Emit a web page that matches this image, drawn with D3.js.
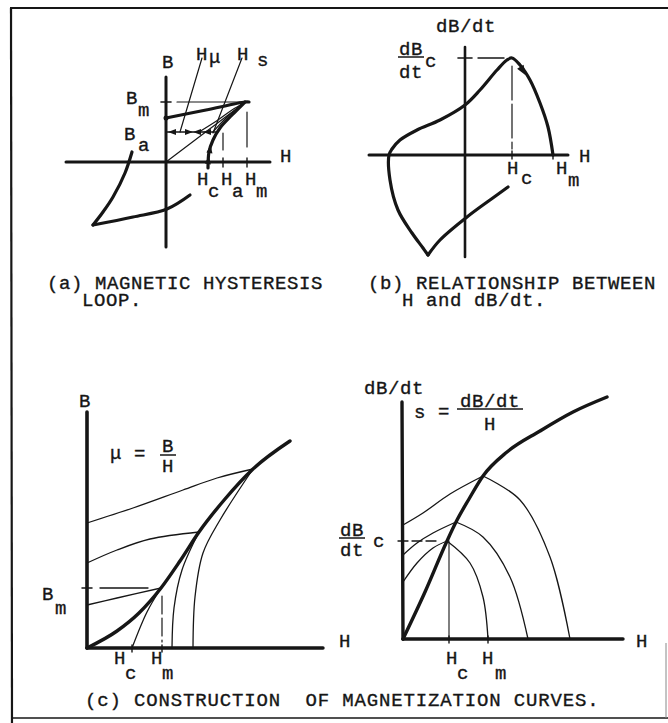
<!DOCTYPE html>
<html>
<head>
<meta charset="utf-8">
<script src="https://cdn.jsdelivr.net/npm/d3@7/dist/d3.min.js"></script>
<style>
  html, body { margin: 0; padding: 0; background: #fff; }
  svg { display: block; }
  text { font-family: "Liberation Mono", "DejaVu Sans Mono", monospace; font-size: 19px; fill: #161616;
         stroke: #161616; stroke-width: 0.35px; letter-spacing: 0.6px; white-space: pre; }
  text.wide { letter-spacing: 0.85px; }
</style>
</head>
<body>
<script>
// ---------- (a) magnetic hysteresis loop (H right, B up; origin at the axes crossing)
const loopTopBranch    = [[0, 44], [40, 52], [79, 60], [83, 60]];
const loopRecoil       = [[42, -6], [43, 10], [47, 22], [54, 34], [66, 47], [79, 60]];
const loopLeftBranch   = [[-34, 10], [-41, -11], [-53, -35], [-63, -50], [-73, -63]];
const loopBottomBranch = [[-73, -63], [-33, -55], [1, -47], [24, -33]];
const loopMuLine       = [[0, 0], [78, 59]];
const loopInnerCurves  = [
  [[33, 30], [52, 42], [66, 52], [78, 59]],
  [[47, 30], [60, 44], [78, 59]]
];
const loopFieldMarks   = [42, 57, 81];          // Hc, Ha, Hm
const loopFluxMarks    = [60, 30];              // Bm, Ba
const loopBaArrows     = [[6, 180], [23, 0], [31, 180], [41, 180]];   // [H, direction]
const loopRecoilArrows = [[42.4, 2], [44, 13]];
const loopPointers     = [[[36, 104], [14, 30]], [[76, 104], [47, 29]]]; // Hμ, Hs leaders

// ---------- (b) dB/dt against H
const rateUpper = [[-37, -100], [-42, -93], [-53, -78], [-67, -55], [-75, -25], [-76, 0], [-73, 6],
                   [-65, 15], [-48, 25], [-25, 35], [0, 50], [15, 65], [32, 85], [42, 95], [47, 97],
                   [55, 90], [65, 75], [75, 52], [83, 28], [88, 0]];
const rateLower = [[-37, -100], [-25, -85], [2, -62], [25, -45], [43, -32]];
const ratePeak  = [47, 97];                     // [Hc, dB/dt c]
const rateHm    = 88;
const rateArrow = [58, 84];

// ---------- (c) construction of magnetization curves, B against H
const bhMain   = [[0, 0], [30, 17], [52, 35], [74, 60], [93, 87], [112, 116], [138, 149], [166, 179], [203, 207]];
const bhFromAxis = [
  [[0, 43], [30, 50], [74, 60]],
  [[0, 85], [30, 98], [63, 109], [112, 116]],
  [[0, 125], [46, 140], [96, 158], [130, 170], [166, 179]]
];
const bhToAxis = [
  [[74, 60], [60, 36], [45, 0]],
  [[112, 116], [95, 78], [87, 40], [85, 0]],
  [[166, 179], [133, 128], [116, 95], [108, 51], [106, 0]]
];
const bhHc = 45, bhHm = 75, bhBm = 60;

// ---------- (c) construction of magnetization curves, dB/dt against H
const sMain   = [[0, 0], [22, 47], [44, 98], [53, 117], [66, 140], [80, 163], [104, 187], [137, 208], [170, 227], [204, 242]];
const sFromAxis = [
  [[0, 57], [14, 76], [30, 91], [44, 98]],
  [[0, 84], [14, 96], [30, 106], [53, 117]],
  [[0, 114], [20, 126], [47, 145], [80, 163]]
];
const sToAxis = [
  [[44, 98], [67, 76], [80, 42], [85, 0]],
  [[53, 117], [80, 102], [107, 62], [125, 0]],
  [[80, 163], [117, 139], [147, 82], [167, 0]]
];
const sHc = 46, sHm = 85, sRateC = 98;

// ---------- captions
const captionA = ["(a) MAGNETIC HYSTERESIS", "LOOP."];
const captionB = ["(b) RELATIONSHIP BETWEEN", "H and dB/dt."];
const captionC = "(c) CONSTRUCTION  OF MAGNETIZATION CURVES.";

// ---------------------------------------------------------------------------
const ink = "#161616";
const svg = d3.select("body").append("svg").attr("width", 668).attr("height", 723);

// each panel uses one drawing unit per pixel, centred on its own origin
function frame(ox, oy) {
  return {
    x: d3.scaleLinear().domain([0, 100]).range([ox, ox + 100]),
    y: d3.scaleLinear().domain([0, 100]).range([oy, oy - 100])
  };
}
const PA = frame(166, 162), PB = frame(465, 155), PC = frame(87, 648), PD = frame(403, 639);

function path(p, pts, w, dash, curve) {
  const gen = d3.line().x(d => p.x(d[0])).y(d => p.y(d[1]))
    .curve(curve || d3.curveCatmullRom.alpha(0.5));
  svg.append("path").attr("d", gen(pts)).attr("fill", "none").attr("stroke", ink)
    .attr("stroke-width", w).attr("stroke-linecap", "round").attr("stroke-linejoin", "round")
    .attr("stroke-dasharray", dash || null);
}
function seg(p, a, b, w, dash) { path(p, [a, b], w, dash, d3.curveLinear); }
function arrow(p, pt, deg, size) {
  size = size || 8;
  const cx = p.x(pt[0]), cy = p.y(pt[1]), a = deg * Math.PI / 180;
  const tx = cx + Math.cos(a) * size * 0.5, ty = cy + Math.sin(a) * size * 0.5;
  const bx = cx - Math.cos(a) * size * 0.5, by = cy - Math.sin(a) * size * 0.5;
  const nx = -Math.sin(a) * size * 0.38, ny = Math.cos(a) * size * 0.38;
  svg.append("path").attr("d", `M${tx},${ty}L${bx + nx},${by + ny}L${bx - nx},${by - ny}Z`).attr("fill", ink);
}
function txt(x, y, s, anchor, dy) {
  return svg.append("text").attr("x", x).attr("y", y).attr("text-anchor", anchor || "middle")
    .attr("dy", dy || "0.35em").attr("xml:space", "preserve").text(s);
}
function low(x, y, s) { txt(x, y, s, "middle", "0.28em"); }
function fraction(x, yTop, yLine, yBot, top, bot, w) {
  txt(x, yTop, top);
  svg.append("line").attr("x1", x - w / 2).attr("x2", x + w / 2).attr("y1", yLine).attr("y2", yLine)
    .attr("stroke", ink).attr("stroke-width", 1.5);
  txt(x, yBot, bot);
}
// two-line caption kept in one text element
function caption(x1, x2, y, lines) {
  const t = svg.append("text").attr("x", x1).attr("y", y).attr("text-anchor", "start");
  t.append("tspan").attr("x", x1).attr("y", y).text(lines[0]);
  t.append("tspan").attr("x", x2).attr("dy", 17).text(lines[1]);
}

// ---------- frame around the figure
const border = svg.append("g").attr("stroke", ink).attr("fill", "none");
border.append("line").attr("x1", 10).attr("y1", 8).attr("x2", 668).attr("y2", 8).attr("stroke-width", 2.2);
border.append("line").attr("x1", 11).attr("y1", 8).attr("x2", 12).attr("y2", 723).attr("stroke-width", 2.2);
border.append("line").attr("x1", 12).attr("y1", 718).attr("x2", 668).attr("y2", 718).attr("stroke-width", 1.6);
border.append("line").attr("x1", 666).attr("y1", 643).attr("x2", 666).attr("y2", 718).attr("stroke-width", 1).attr("stroke", "#888");

// ================= (a)
seg(PA, [-100, 0], [104, 0], 3);
seg(PA, [0, 85], [0, -85], 3);
path(PA, loopTopBranch, 3.2);
path(PA, loopRecoil, 3.2);
path(PA, loopLeftBranch, 3.2);
path(PA, loopBottomBranch, 3.2);
path(PA, loopMuLine, 1.2);
loopInnerCurves.forEach(c => path(PA, c, 1.2));
loopPointers.forEach(l => seg(PA, l[0], l[1], 1.2));
// Bm level: tick on the B axis, then the thin level line
seg(PA, [-5, loopFluxMarks[0]], [5, loopFluxMarks[0]], 1.6);
seg(PA, [11, loopFluxMarks[0]], [76, loopFluxMarks[0]], 1.2);
// Ba level with its arrows
seg(PA, [0, loopFluxMarks[1]], [50, loopFluxMarks[1]], 1.6);
loopBaArrows.forEach(a => arrow(PA, [a[0], loopFluxMarks[1]], a[1], 8));
loopRecoilArrows.forEach(a => arrow(PA, a, -82, 8));
svg.append("circle").attr("cx", PA.x(0)).attr("cy", PA.y(44)).attr("r", 2.5).attr("fill", ink);
// Ha and Hm verticals, ticks on the H axis
seg(PA, [loopFieldMarks[1], 29], [loopFieldMarks[1], 12], 1.2);
seg(PA, [loopFieldMarks[2], 50], [loopFieldMarks[2], 15], 1.2);
loopFieldMarks.forEach(h => seg(PA, [h, 4], [h, -5], 1.4));
// labels
txt(168, 61, "B");
txt(202, 53, "H"); low(215, 58, "μ");
txt(243, 53, "H"); low(263, 61, "s");
txt(132, 97, "B"); low(144, 111, "m");
txt(130, 133, "B"); low(144, 146, "a");
txt(286, 155, "H");
["c", "a", "m"].forEach((s, i) => {
  const hx = [203, 227, 251][i];
  txt(hx, 178, "H");
  low(hx + 11, 192, s);
});
caption(47, 82, 289, captionA);

// ================= (b)
seg(PB, [-96, 0], [103, 0], 3);
seg(PB, [0, 108], [0, -102], 2.6);
path(PB, rateUpper, 3.2);
path(PB, rateLower, 3.2);
arrow(PB, rateArrow, 58, 10);
seg(PB, [-7, ratePeak[1]], [7, ratePeak[1]], 1.6);
seg(PB, [13, ratePeak[1]], [39, ratePeak[1]], 1.4);
seg(PB, [ratePeak[0], 89], [ratePeak[0], 6], 1.2, "34,4");
seg(PB, [ratePeak[0], 4], [ratePeak[0], -4], 1.4);
seg(PB, [rateHm, 4], [rateHm, -4], 1.4);
txt(466, 25, "dB/dt");
fraction(411, 48, 57, 71, "dB", "dt", 26);
low(431, 62, "c");
txt(585, 155, "H");
txt(PB.x(ratePeak[0]) + 1, 167, "H"); low(527, 179, "c");
txt(562, 167, "H"); low(574, 181, "m");
caption(368, 402, 289, captionB);

// ================= (c) B against H
seg(PC, [0, 0], [236, 0], 3.4);
seg(PC, [0, 0], [0, 236], 3.6);
path(PC, bhMain, 3.4, null, d3.curveMonotoneX);
bhFromAxis.forEach(c => path(PC, c, 1.3));
bhToAxis.forEach(c => path(PC, c, 1.3));
seg(PC, [-5, bhBm], [5, bhBm], 1.5);
seg(PC, [13, bhBm], [61, bhBm], 1.3);
seg(PC, [bhHm, 52], [bhHm, 6], 1.2, "18,4");
seg(PC, [bhHc, 3], [bhHc, -4], 1.4);
seg(PC, [bhHm, 3], [bhHm, -4], 1.4);
txt(85, 400, "B");
low(116, 454, "μ"); txt(140, 452, "=");
fraction(168, 445, 455, 465, "B", "H", 16);
txt(345, 640, "H");
txt(48, 593, "B"); low(61, 609, "m");
txt(120, 657, "H"); low(131, 674, "c");
txt(157, 657, "H"); low(168, 674, "m");
txt(85, 706, captionC, "start", "0").attr("class", "wide");

// ================= (c) dB/dt against H
seg(PD, [0, 0], [220, 0], 3.4);
seg(PD, [0, 0], [-1, 237], 3.4);
path(PD, sMain, 3.4, null, d3.curveMonotoneX);
sFromAxis.forEach(c => path(PD, c, 1.3));
sToAxis.forEach(c => path(PD, c, 1.3));
seg(PD, [-5, sRateC], [37, sRateC], 1.3, "10,4");
seg(PD, [sHc, sRateC], [sHc, 0], 1.1);
seg(PD, [sHc, 3], [sHc, -4], 1.4);
seg(PD, [sHm, 3], [sHm, -4], 1.4);
txt(394, 387, "dB/dt");
low(420, 413, "s"); txt(444, 410, "=");
fraction(490, 400, 409, 423, "dB/dt", "H", 66);
fraction(352, 529, 538, 549, "dB", "dt", 26);
low(379, 542, "c");
txt(642, 640, "H");
txt(452, 657, "H"); low(463, 674, "c");
txt(488, 657, "H"); low(501, 674, "m");
</script>
</body>
</html>
